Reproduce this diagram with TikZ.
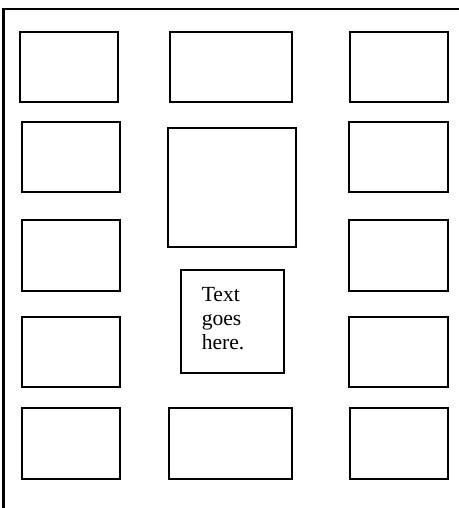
\documentclass[tikz,border=0pt]{standalone}
\usepackage{fontspec}
\setmainfont{Liberation Serif}
\usetikzlibrary{fit}
\begin{document}
\begin{tikzpicture}[x=0.75pt,y=-0.75pt,
  box/.style={draw=black,line width=1.2pt,inner sep=0pt,outer sep=0pt,rectangle},
  frameline/.style={draw=black,line width=1.5pt},
  label/.style={font=\fontsize{16.2pt}{18pt}\selectfont,align=left,inner sep=0pt,anchor=base west}]
\useasboundingbox (0,0) rectangle (459,508);
% outer frame (top and left edges visible)
\coordinate (ftr) at (460,9);
\coordinate (ftl) at (3.5,9);
\coordinate (fbl) at (3.5,509);
\draw[frameline] (ftr) -- (ftl) -- (fbl);
% left column
\node[box,fit={(20,32) (118,102)}] (L1) {};
\node[box,fit={(22,122) (120,192)}] (L2) {};
\node[box,fit={(22,220) (120,291)}] (L3) {};
\node[box,fit={(22,317) (120,387)}] (L4) {};
\node[box,fit={(22,408) (120,479)}] (L5) {};
% centre column
\node[box,fit={(170,32) (292,102)}] (C1) {};
\node[box,fit={(168,128) (296,247)}] (C2) {};
\node[box,fit={(181,270) (284,373)}] (C3) {};
\node[box,fit={(169,408) (292,479)}] (C5) {};
% right column
\node[box,fit={(350,32) (448,102)}] (R1) {};
\node[box,fit={(349,122) (448,192)}] (R2) {};
\node[box,fit={(349,220) (448,291)}] (R3) {};
\node[box,fit={(349,317) (448,387)}] (R4) {};
\node[box,fit={(350,408) (448,479)}] (R5) {};
% text
\node[label] (T) at (201.5,349) {Text\\goes\\here.};
\end{tikzpicture}
\end{document}
